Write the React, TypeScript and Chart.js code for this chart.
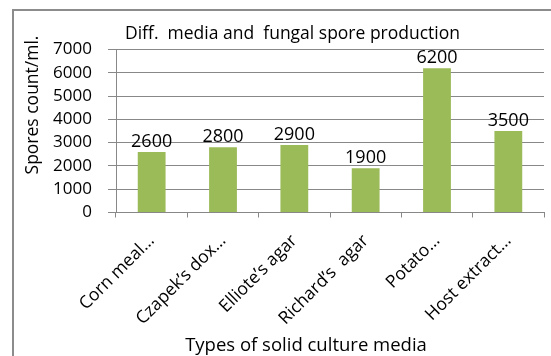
import React, { useEffect, useRef } from "react";
import { Chart, registerables } from "chart.js";

Chart.register(...registerables);

const categories = [
  "Corn meal agar",
  "Czapek’s dox agar",
  "Elliote’s agar",
  "Richard’s  agar",
  "Potato dextrose agar",
  "Host extract agar",
];
const tickLabels = ["Corn meal…", "Czapek’s dox…", "Elliote’s agar", "Richard’s  agar", "Potato…", "Host extract…"];
const sporeCounts = [2600, 2800, 2900, 1900, 6200, 3500];

const chartTitle = "Diff.  media and  fungal spore production";
const yTitle = "Spores count/ml.";
const xTitle = "Types of solid culture media";

const FONT = "'Open Sans', Lato, sans-serif";
const GRID = "#888888";

const decorPlugin = {
  id: "decor",
  beforeDraw(chart: any) {
    const ctx = chart.ctx;
    ctx.save();
    ctx.strokeStyle = "#8c8c8c";
    ctx.lineWidth = 2;
    ctx.beginPath();
    ctx.moveTo(13, chart.height + 5);
    ctx.lineTo(13, 10);
    ctx.lineTo(chart.width + 5, 10);
    ctx.stroke();
    ctx.restore();
  },
  afterDraw(chart: any) {
    const ctx = chart.ctx;
    ctx.save();
    ctx.fillStyle = "#000";
    ctx.font = `17.5px ${FONT}`;
    ctx.textAlign = "left";
    ctx.textBaseline = "alphabetic";
    ctx.fillText(chartTitle, 125, 39);

    ctx.font = `18.5px ${FONT}`;
    ctx.textAlign = "center";
    ctx.fillText(xTitle, 306, 351);

    ctx.font = `17.5px ${FONT}`;
    ctx.translate(38, 105);
    ctx.rotate(-Math.PI / 2);
    ctx.textAlign = "center";
    ctx.fillText(yTitle, 0, 0);
    ctx.restore();
  },
};

const valueLabelPlugin = {
  id: "valueLabels",
  afterDatasetsDraw(chart: any) {
    const ctx = chart.ctx;
    const meta = chart.getDatasetMeta(0);
    ctx.save();
    ctx.fillStyle = "#000";
    ctx.font = `18px ${FONT}`;
    ctx.textAlign = "center";
    ctx.textBaseline = "alphabetic";
    meta.data.forEach((bar: any, i: number) => {
      ctx.fillText(String(sporeCounts[i]), bar.x, bar.y - 5);
    });
    ctx.restore();
  },
};

export default function App() {
  const canvasRef = useRef<HTMLCanvasElement | null>(null);

  useEffect(() => {
    if (!canvasRef.current) return;
    const chart = new Chart(canvasRef.current, {
      type: "bar",
      data: {
        labels: categories,
        datasets: [
          {
            label: "Spores count/ml.",
            data: sporeCounts,
            backgroundColor: "#9bbb59",
            borderWidth: 0,
            categoryPercentage: 1,
            barPercentage: 0.39,
          },
        ],
      },
      options: {
        responsive: false,
        animation: false,
        layout: { padding: { top: 49.5, right: 7, bottom: 0, left: 0 } },
        plugins: {
          legend: { display: false },
          title: { display: false },
          tooltip: { enabled: false },
        },
        scales: {
          x: {
            afterFit(scale: any) {
              scale.height = 143.5;
            },
            grid: {
              offset: true,
              drawOnChartArea: false,
              drawTicks: true,
              tickLength: 5,
              color: GRID,
            },
            border: { display: true, color: GRID, width: 1 },
            ticks: {
              autoSkip: false,
              minRotation: 45,
              maxRotation: 45,
              padding: 13,
              color: "#000",
              font: { family: FONT, size: 17.5 },
              callback: (_v: any, i: number) => tickLabels[i],
            },
          },
          y: {
            min: 0,
            max: 7000,
            afterFit(scale: any) {
              scale.width = 116;
            },
            grid: {
              color: GRID,
              drawTicks: true,
              tickLength: 8,
            },
            border: { display: true, color: GRID, width: 1 },
            ticks: {
              stepSize: 1000,
              autoSkip: false,
              padding: 16,
              color: "#000",
              font: { family: FONT, size: 17 },
              callback: (v: any) => String(v),
            },
          },
        },
      },
      plugins: [decorPlugin, valueLabelPlugin],
    });
    return () => chart.destroy();
  }, []);

  return (
    <div style={{ position: "absolute", left: 0, top: 0, width: 551, height: 356, background: "#fff" }}>
      <canvas ref={canvasRef} width={551} height={356} />
    </div>
  );
}
